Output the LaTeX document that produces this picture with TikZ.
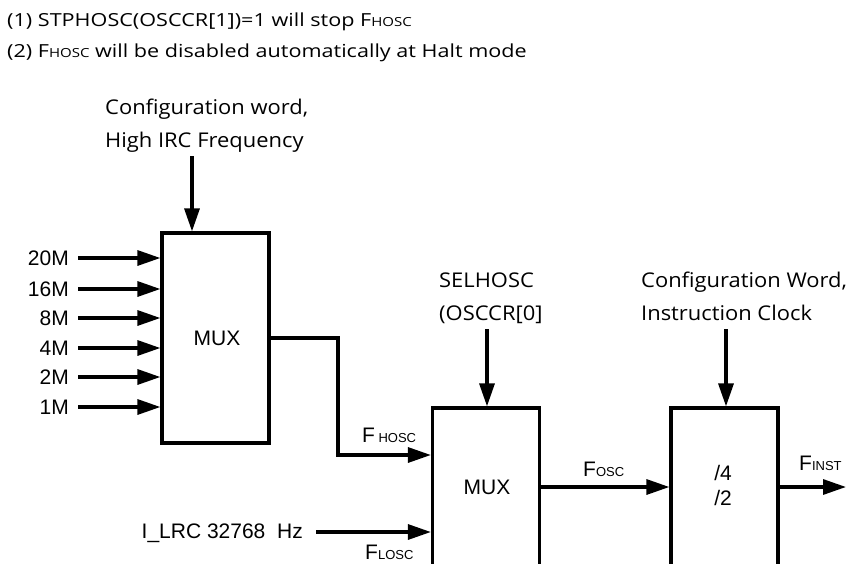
\documentclass[tikz,border=0pt]{standalone}
\usepackage{fontspec}
\setmainfont{Open Sans}[FakeStretch=1.08]
\newfontfamily\hdfont{Open Sans}[FakeStretch=1.2]
\newfontfamily\arialf{Liberation Sans}
\usetikzlibrary{arrows.meta}
\newcommand\lowsub[1]{{\fontsize{13}{13}\selectfont #1}}
\newcommand\headsub[1]{{\fontsize{12.5}{12.5}\selectfont #1}}
\begin{document}
\begin{tikzpicture}[x=1pt,y=-1pt,
  blk/.style={draw, line width=3.2pt, minimum width=107pt, inner sep=0pt},
  arr/.style={line width=3.2pt, -{Triangle[length=23pt,width=15pt]}},
  lbl/.style={font=\arialf\fontsize{21}{21}\selectfont, inner sep=0pt},
  note/.style={font=\fontsize{20.3}{20.3}\selectfont, inner sep=0pt, anchor=base west},
  head/.style={font=\hdfont\fontsize{18}{18}\selectfont, inner sep=0pt, anchor=base west}]
\useasboundingbox (0,0) rectangle (846,563);
\clip (0,0) rectangle (846,563);

% heading notes
\node[head] (h1) at (7,26) {(1) STPHOSC(OSCCR[1])=1 will stop F\headsub{HOSC}};
\node[head] (h2) at (7,57) {(2) F\headsub{HOSC} will be disabled automatically at Halt mode};

% blocks
\node[blk, minimum height=210pt] (mux1) at (215.5,338) {};
\node[lbl] (mux1t) at (217,338) {MUX};
\node[blk, minimum height=200pt] (mux2) at (486,508) {};
\node[lbl] (mux2t) at (487,487) {MUX};
\node[blk, minimum height=200pt] (div) at (724.5,508) {};
\node[lbl] (d4) at (723,473) {/4};
\node[lbl] (d2) at (723,498) {/2};

% frequency inputs
\foreach \t/\y/\n in {20M/258/a,16M/289/b,8M/318/c,4M/348/d,2M/377/e,1M/407/f}{
  \node[lbl, anchor=east] (in\n) at (69,\y) {\t};
  \draw[arr] ([xshift=9pt]in\n.east) -- (mux1.west |- in\n);
}

% configuration word (top)
\node[note] (cw1) at (105,114) {Configuration word,};
\node[note] (cw2) at (105,147) {High IRC Frequency};
\coordinate (cwa) at (192,156);
\draw[arr] (cwa) -- (cwa |- mux1.north);

% FHOSC path
\coordinate (bend) at (338,455);
\draw[arr] (mux1.east) -- (bend |- mux1.east) -- (bend) -- (mux2.west |- bend);
\node[lbl, anchor=base west] (fh) at (362,442) {F\,\lowsub{HOSC}};

% SELHOSC
\node[note] (sel1) at (439,287) {SELHOSC};
\node[note] (sel2) at (439,320) {(OSCCR[0]};
\coordinate (sela) at (487,329);
\draw[arr] (sela) -- (sela |- mux2.north);

% Configuration word, instruction clock
\node[note] (ic1) at (641,287) {Configuration Word,};
\node[note] (ic2) at (641,320) {Instruction Clock};
\coordinate (ica) at (726,329);
\draw[arr] (ica) -- (ica |- div.north);

% LRC input
\node[lbl, anchor=base east] (lrc) at (303,538) {I\_LRC 32768\ \ Hz};
\coordinate (lrca) at (316,532);
\draw[arr] (lrca) -- (mux2.west |- lrca);
\node[lbl, anchor=base west] (fl) at (365,559) {F\lowsub{LOSC}};

% FOSC
\draw[arr] (mux2.east |- mux2t) -- (div.west |- mux2t);
\node[lbl, anchor=base west] (fo) at (583,476) {F\lowsub{OSC}};

% FINST
\coordinate (outend) at (846,487);
\draw[arr] (div.east |- outend) -- (outend);
\node[lbl, anchor=base west] (fi) at (799,470) {F\lowsub{INST}};
\end{tikzpicture}
\end{document}
